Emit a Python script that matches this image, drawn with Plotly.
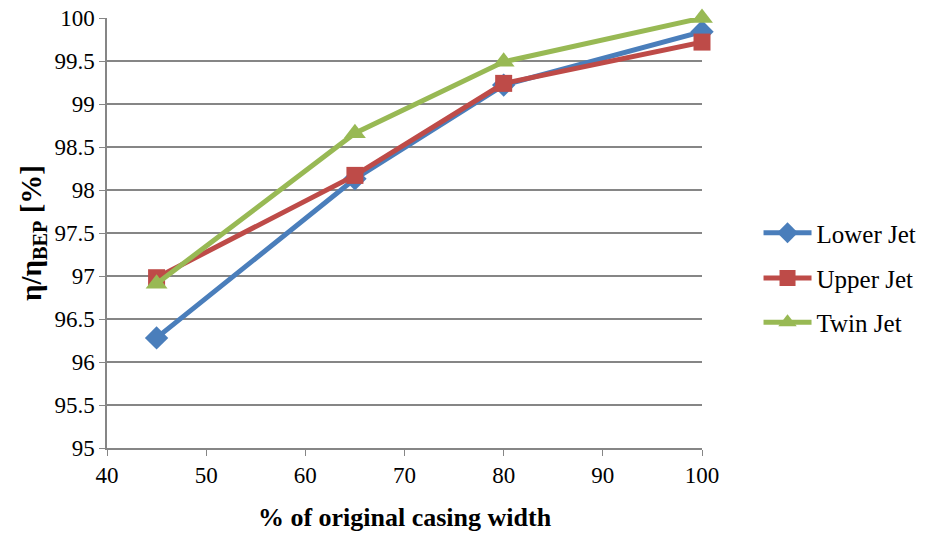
import plotly.graph_objects as go

# Casing width as % of original, and normalised efficiency per jet configuration
casing_width = [45, 65, 80, 100]
lower_jet = [96.28, 98.13, 99.22, 99.84]
upper_jet = [96.98, 98.17, 99.24, 99.72]
twin_jet = [96.91, 98.66, 99.49, 100.0]

series = [
    ("Lower Jet", lower_jet, "#4A7EBB", "diamond", 18, "legend", 0.50),
    ("Upper Jet", upper_jet, "#BE4B48", "square", 17, "legend2", 0.395),
    ("Twin Jet", twin_jet, "#98B954", "triangle-up", 19, "legend3", 0.292),
]

serif = "Liberation Serif"
axis_grey = "#868686"

fig = go.Figure()
legends = {}
for name, vals, color, symbol, size, leg, ypos in series:
    fig.add_trace(go.Scatter(
        x=casing_width, y=vals, name=name, mode="lines+markers",
        line=dict(color=color, width=5),
        marker=dict(symbol=symbol, size=size, color=color),
        cliponaxis=False, legend=leg,
    ))
    legends[leg] = dict(x=1.095, y=ypos, yanchor="middle", xanchor="left",
                        itemwidth=48,
                        font=dict(family=serif, size=25, color="black"),
                        bgcolor="rgba(0,0,0,0)")

fig.update_layout(
    template="none",
    width=933, height=535,
    margin=dict(l=107, r=228, t=18, b=87),
    paper_bgcolor="white", plot_bgcolor="white",
    font=dict(family=serif, size=23, color="black"),
    showlegend=True,
    **legends,
    xaxis=dict(
        range=[40, 100], dtick=10, showgrid=False,
        showline=True, linecolor=axis_grey, linewidth=1.5,
        ticks="outside", ticklen=6, tickcolor=axis_grey, zeroline=False,
        tickfont=dict(family=serif, size=23, color="black"),
        title=dict(text="<b>% of original casing width</b>",
                   font=dict(family=serif, size=26), standoff=20),
    ),
    yaxis=dict(
        range=[95, 100], dtick=0.5, showgrid=True, gridcolor=axis_grey, gridwidth=1.5,
        showline=True, linecolor=axis_grey, linewidth=1.5,
        ticks="outside", ticklen=6, tickcolor=axis_grey, zeroline=False,
        tickfont=dict(family=serif, size=23, color="black"),
        title=dict(text="<b>η/η<sub>BEP</sub> [%]</b>",
                   font=dict(family=serif, size=29), standoff=4),
    ),
)

fig.write_html("out.html")
